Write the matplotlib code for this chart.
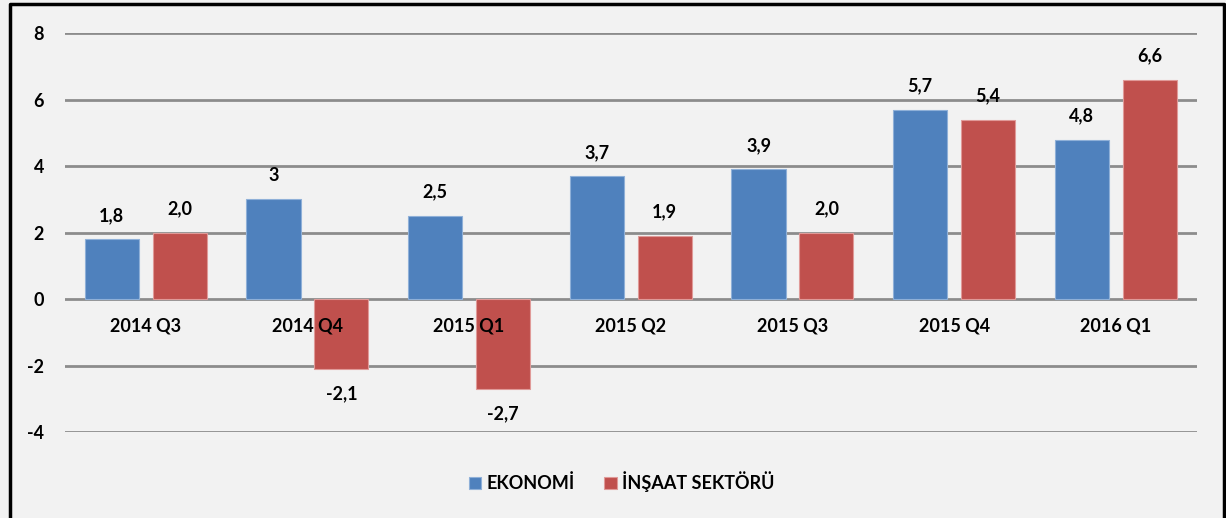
import matplotlib.pyplot as plt
import numpy as np
from matplotlib.lines import Line2D

# Chart data
quarters = ["2014 Q3", "2014 Q4", "2015 Q1", "2015 Q2", "2015 Q3", "2015 Q4", "2016 Q1"]
ekonomi = [1.8, 3.0, 2.5, 3.7, 3.9, 5.7, 4.8]
insaat = [2.0, -2.1, -2.7, 1.9, 2.0, 5.4, 6.6]
ekonomi_labels = ["1,8", "3", "2,5", "3,7", "3,9", "5,7", "4,8"]
insaat_labels = ["2,0", "-2,1", "-2,7", "1,9", "2,0", "5,4", "6,6"]
y_ticks = [-4, -2, 0, 2, 4, 6, 8]

plt.rcParams['font.family'] = ['Lato', 'DejaVu Sans']
plt.rcParams['font.weight'] = 'bold'

bg = "#f2f2f2"
blue = "#4f81bd"
red = "#c0504d"
fs = 13

fig = plt.figure(figsize=(12.26, 5.18), dpi=100, facecolor=bg)
ax = fig.add_axes([0.053, 0.166, 0.923, 0.770])
ax.set_facecolor(bg)

x = np.arange(len(quarters))
w = 0.335
off = 0.21
b1 = ax.bar(x - off, ekonomi, w, color=blue, edgecolor="#8fb0d8", linewidth=0.8, zorder=2,
            label="EKONOMİ")
b2 = ax.bar(x + off, insaat, w, color=red, edgecolor="#e09a98", linewidth=0.8, zorder=2,
            label="İNŞAAT SEKTÖRÜ")

for bars, labs, vals in [(b1, ekonomi_labels, ekonomi), (b2, insaat_labels, insaat)]:
    for rect, lab, v in zip(bars, labs, vals):
        ax.annotate(lab, (rect.get_x() + rect.get_width() / 2, v),
                    xytext=(0, 11 if v >= 0 else -12), textcoords="offset points",
                    ha="center", va="bottom" if v >= 0 else "top",
                    fontsize=fs, fontweight="bold")

# category labels sit just under the zero line, over the bars
for xi, q in zip(x, quarters):
    ax.text(xi, -0.8, q, ha="center", va="center", fontsize=fs, fontweight="bold", zorder=4)

ax.set_xlim(-0.5, len(quarters) - 0.5)
ax.set_ylim(-4, 8)
ax.set_yticks(y_ticks)
ax.set_yticklabels([str(t) for t in y_ticks], fontsize=fs, fontweight="bold")
ax.set_xticks([])
ax.tick_params(axis="y", length=0, pad=15)
ax.grid(axis="y", color="#8c8c8c", linewidth=2, zorder=1)
ax.set_axisbelow(True)
for s in ax.spines.values():
    s.set_visible(False)

fig.legend(handles=[b1, b2], loc="center", bbox_to_anchor=(0.507, 0.07), ncol=2,
           frameon=False, handlelength=0.7, handleheight=0.7, handletextpad=0.3,
           columnspacing=1.6, prop={"size": fs, "weight": "bold"})

# outer frame (left, top, right)
W, H = 1226, 518
fx0, fx1, fy1 = 10 / W, 1224 / W, 1 - 4 / H
fig.add_artist(Line2D([fx0, fx0, fx1, fx1], [-0.1, fy1, fy1, -0.1], color="black",
                      linewidth=2.5, transform=fig.transFigure))

fig.savefig("out.png", dpi=100, facecolor=bg)
